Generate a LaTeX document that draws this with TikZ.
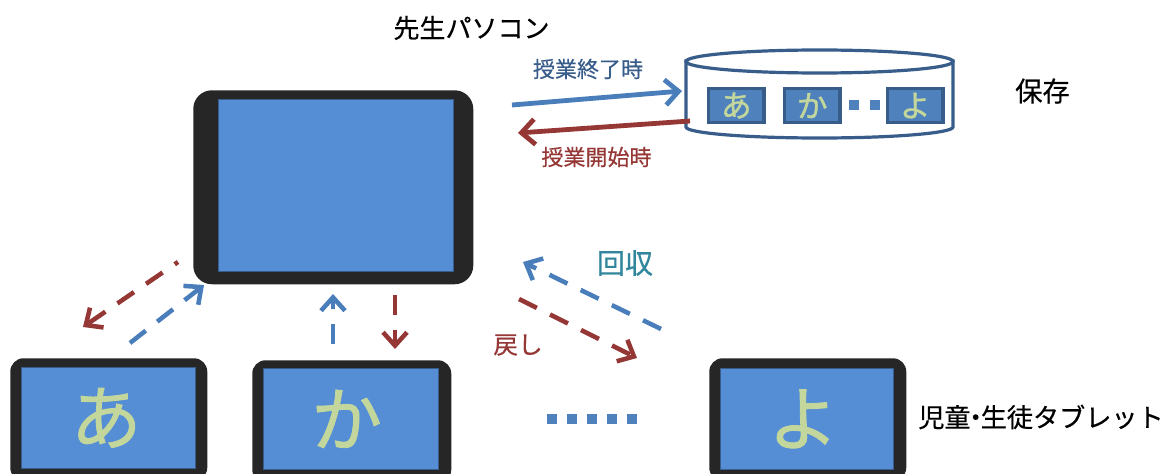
\documentclass[tikz,border=0pt]{standalone}
\usepackage{fontspec}
\setmainfont[FakeBold=0.4]{Noto Sans CJK JP}
\newfontfamily\kanafont[FakeBold=1.2]{Noto Sans CJK JP}
\usetikzlibrary{arrows.meta}
\definecolor{dk}{HTML}{262626}
\definecolor{scr}{HTML}{558ED5}
\definecolor{bl}{HTML}{4A7EBB}
\definecolor{rd}{HTML}{953735}
\definecolor{kana}{HTML}{C3D69B}
\definecolor{navy}{HTML}{385D8A}
\definecolor{teal2}{HTML}{31859C}
\definecolor{boxb}{HTML}{4F81BD}
\tikzset{
  body/.style={fill=dk,rounded corners=#1,inner sep=0pt,anchor=north west},
  screen/.style={fill=scr,draw=navy,line width=.3pt,inner sep=0pt,anchor=north west,text=kana,font=\kanafont\fontsize{53}{53}\selectfont},
  mini/.style={fill=boxb,draw=navy,line width=2.4pt,inner sep=0pt,anchor=north west,minimum width=41.5pt,minimum height=25.5pt,text=kana,font=\kanafont\fontsize{23}{23}\selectfont},
  solidarrow/.style={line width=3.6pt,-{Straight Barb[length=10pt,width=19pt,line width=3.6pt]}},
  dasharrow/.style={line width=3.4pt,dash pattern=on 15pt off 11pt,-{Straight Barb[length=10pt,width=18pt,line width=3.4pt]}},
  txt/.style={inner sep=0pt,anchor=center},
  square/.style={fill=boxb,inner sep=0pt,minimum width=7.5pt,minimum height=8pt}
}
\begin{document}
\begin{tikzpicture}[x=0.75pt,y=-0.75pt]
\useasboundingbox (0,0) rectangle (1163,474);
% main PC
\node[body=14pt,minimum width=210pt,minimum height=145.5pt] (pc) at (193,90) {};
\node[screen,minimum width=176.25pt,minimum height=129pt] (pcs) at (218,99) {};
% tablets
\node[body=10pt,minimum width=147.75pt,minimum height=92pt] (ta) at (10,358) {};
\node[screen,minimum width=130.5pt,minimum height=76pt] (tas) at (21,367) {\raisebox{2pt}{\kern-3pt あ}};
\node[body=10pt,minimum width=149.25pt,minimum height=92pt] (tk) at (252,360) {};
\node[screen,minimum width=131.25pt,minimum height=76pt] (tks) at (263,368) {\raisebox{1pt}{\kern-6pt か}};
\node[body=10pt,minimum width=147.75pt,minimum height=92pt] (ty) at (709,358) {};
\node[screen,minimum width=129.75pt,minimum height=76pt] (tys) at (720,368) {\raisebox{-3pt}{\kern-5pt よ}};
% storage cylinder
\draw[navy,line width=2.4pt,fill=white] (686,61) -- (686,127) arc[start angle=180,end angle=0,x radius=133.5,y radius=11] -- (953,61) -- cycle;
\draw[navy,line width=2.4pt,fill=white] (819.5,61.5) ellipse[x radius=133.5,y radius=11.5];
\node[mini] (ma) at (707,87) {あ};
\node[mini] (mk) at (783,87) {か};
\node[mini] (my) at (886,87) {よ};
\node[square] (d1) at (853.5,105) {};
\node[square] (d2) at (875,105) {};
% dots
\foreach \n/\x in {r1/552,r2/572,r3/592,r4/612,r5/632}{\node[square] (\n) at (\x,419) {};}
% labels
\node[txt,font=\fontsize{19.5}{20}\selectfont] (lpc) at (471.5,28) {先生パソコン};
\node[txt,font=\fontsize{16.5}{20}\selectfont,text=navy] (lend) at (588,69) {授業終了時};
\node[txt,font=\fontsize{16.5}{20}\selectfont,text=rd] (lstart) at (596.5,157) {授業開始時};
\node[txt,font=\fontsize{20.5}{20}\selectfont] (lsave) at (1042.5,91) {保存};
\node[txt,font=\fontsize{21}{22}\selectfont,text=teal2] (lcol) at (625,263) {回収};
\node[txt,font=\fontsize{18.5}{20}\selectfont,text=rd] (lret) at (518,345) {戻し};
\node[txt,font=\fontsize{19.6}{20}\selectfont] (lst) at (1041,417) {児童\kern-6pt ・\kern-6pt 生徒タブレット};
% connectors
\coordinate (e1) at (512,105); \coordinate (e2) at (682,91);
\coordinate (s1) at (690,121); \coordinate (s2) at (518,133);
\draw[bl,solidarrow] (e1) -- (e2);
\draw[rd,solidarrow] (s1) -- (s2);
\coordinate (a1) at (178,262); \coordinate (a2) at (83,327);
\coordinate (a3) at (130,343); \coordinate (a4) at (204,285);
\coordinate (k1) at (333,344); \coordinate (k2) at (333,294);
\coordinate (k3) at (395,295); \coordinate (k4) at (395,349);
\coordinate (y1) at (661,329); \coordinate (y2) at (523,262);
\coordinate (y3) at (519,299); \coordinate (y4) at (637,358);
\draw[rd,dasharrow,dash phase=12pt] (a1) -- (a2);
\draw[bl,dasharrow] (a3) -- (a4);
\draw[bl,dasharrow] (k1) -- (k2);
\draw[rd,dasharrow] (k3) -- (k4);
\draw[bl,dasharrow] (y1) -- (y2);
\draw[rd,dasharrow] (y3) -- (y4);
\end{tikzpicture}
\end{document}
